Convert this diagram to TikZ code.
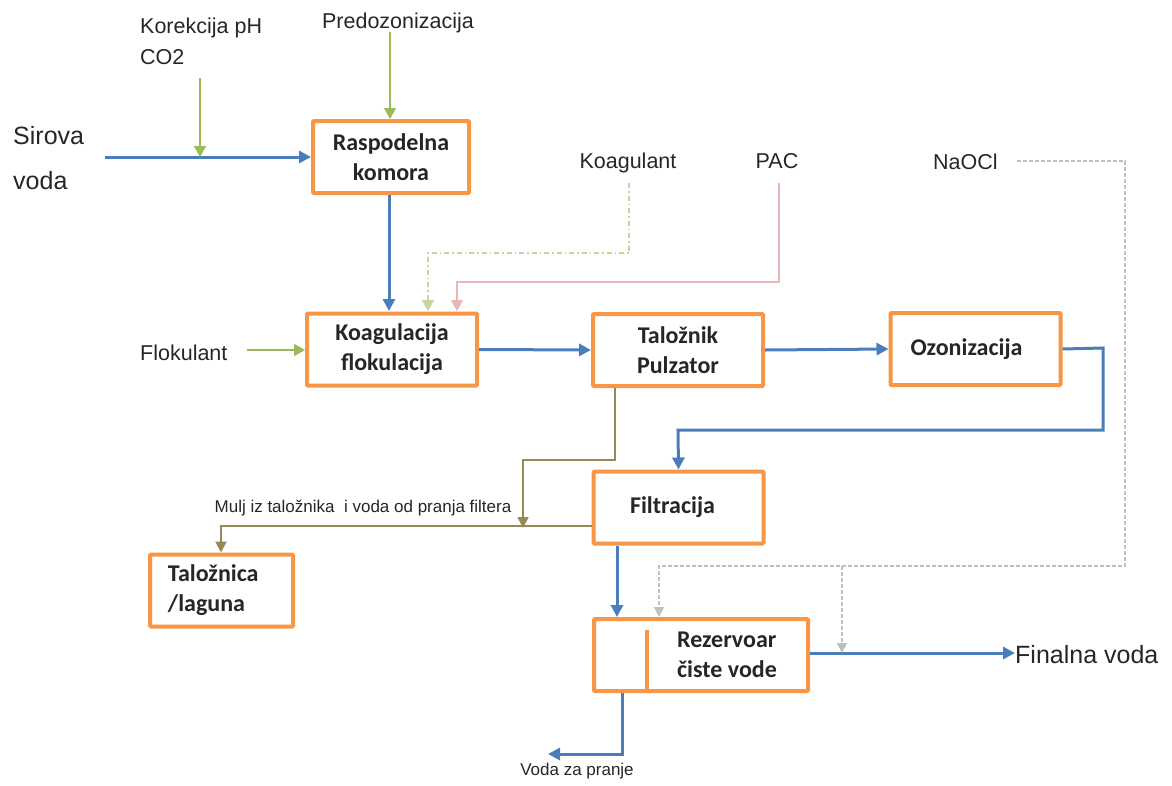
\documentclass[tikz,border=0pt]{standalone}
\usepackage{fontspec}
\usepackage{xcolor}
\usetikzlibrary{arrows.meta}
\setmainfont{Liberation Sans}
\newfontfamily\calib{Carlito}

\definecolor{flowblue}{RGB}{74,126,187}
\definecolor{dosegreen}{RGB}{155,187,89}
\definecolor{lightgreen}{RGB}{195,214,155}
\definecolor{boxorange}{RGB}{247,150,70}
\definecolor{pacpink}{RGB}{230,185,184}
\definecolor{sludge}{RGB}{148,138,84}
\definecolor{chlorgray}{RGB}{191,191,191}
\definecolor{ink}{RGB}{38,38,38}

\tikzset{
  unit/.style={draw=boxorange, line width=4pt, rounded corners=1pt, fill=white,
    minimum width=170pt, minimum height=72pt, inner sep=0pt,
    font=\calib\bfseries\fontsize{24}{30}\selectfont, text=ink, align=center},
  lbl/.style={inner sep=0pt, text=ink, font=\fontsize{21.5}{31}\selectfont},
  biglbl/.style={inner sep=0pt, text=ink, font=\fontsize{25}{45}\selectfont},
  smalllbl/.style={inner sep=0pt, text=ink, font=\fontsize{17}{20}\selectfont},
  water/.style={draw=flowblue, line width=3pt, -{Triangle[length=12pt,width=12pt]}},
  dose/.style={draw=dosegreen, line width=1.5pt, -{Triangle[length=11pt,width=12pt]}},
  sludgeline/.style={draw=sludge, line width=2pt, -{Triangle[length=11pt,width=11pt]}},
  chlor/.style={draw=chlorgray, line width=1.4pt, dash pattern=on 4pt off 2pt,
    -{Triangle[length=10pt,width=10pt]}},
}

\begin{document}
\begin{tikzpicture}[x=1pt, y=-1pt]
\useasboundingbox (0,0) rectangle (1172,785);

% process units
\node[unit, minimum width=156pt] (rasp) at (391,157) {Raspodelna\\komora};
\node[unit] (koag) at (392,349.5) {Koagulacija\\flokulacija};
\node[unit] (talo) at (678,350) {Taložnik\\Pulzator};
\node[unit] (ozon) at (975.5,349) {\hspace*{-18pt}Ozonizacija};
\node[unit] (filt) at (678.5,507.5) {\hspace*{-12pt}Filtracija};
\node[unit, minimum width=143pt, align=left] (lag) at (221.5,590.5) {Taložnica\\/laguna\hspace*{30pt}};
\node[unit, minimum width=214pt] (rez) at (701,655) {};
\node[inner sep=0pt, align=left, text=ink, font=\calib\bfseries\fontsize{24}{30}\selectfont] (rezt) at (727,655) {Rezervoar\\čiste vode};
\draw[draw=boxorange, line width=4pt] (647,630) -- (647,693);

% labels
\node[biglbl, anchor=west, align=left] (raw) at (13,158) {Sirova\\voda};
\node[lbl, anchor=west, align=left] (co2) at (140,41) {Korekcija pH\\CO2};
\node[lbl, anchor=base] (preoz) at (398,28) {Predozonizacija};
\node[lbl, anchor=base] (koagul) at (628,168) {Koagulant};
\node[lbl, anchor=base] (pac) at (777,168) {PAC};
\node[lbl, anchor=base west] (naocl) at (933,169) {NaOCl};
\node[lbl, anchor=base west] (flok) at (140,360) {Flokulant};
\node[smalllbl, anchor=base] (mulj) at (363,512) {Mulj iz taložnika\ \ i voda od pranja filtera};
\node[biglbl, anchor=base west] (final) at (1015,663) {Finalna voda};
\node[smalllbl, anchor=base] (wash) at (577,775) {Voda za pranje};

\coordinate (rawend) at (105,157);
\coordinate (co2top) at (200,78);
\coordinate (preoztop) at (390,32);
\coordinate (washend) at (548,754);
\coordinate (sludgedrop) at (523,528);

% water line
\draw[water] (rawend) -- (rawend -| rasp.west);
\draw[water] (389,195) -- (389,311);
\draw[water] (koag.east) -- (talo.west);
\draw[water] (talo.east) -- (ozon.west);
\draw[water] (ozon.east) -- (1103,348) -- (1103,430) -- (678,430) -- (filt.north);
\draw[water] (617,546) -- (617,617);
\draw[water] (rez.east |- 0,653) -- (final.west |- 0,653);
\draw[water] (622,693) -- (622,754) -- (washend);

% chemicals
\draw[dose] (co2top) -- (200,157);
\draw[dose] (preoztop) -- (preoztop |- rasp.north);
\draw[dose] (flok.east |- 0,350) ++(19,0) -- (koag.west |- 0,350);
\draw[dose, draw=lightgreen, dash pattern=on 5pt off 3pt on 1.5pt off 3pt] (629,183) -- (629,253) -- (428,253) -- (428,311);
\draw[dose, draw=pacpink] (779,183) -- (779,282) -- (457,282) -- (457,311);
\draw[chlor] (1017,161) -- (1125,161) -- (1125,566) -- (659,566) -- (659,617);
\draw[chlor] (842,566) -- (842,653);

% sludge
\draw[sludgeline, line width=1.5pt] (615,388) -- (615,460) -- (523,460) -- (sludgedrop);
\draw[sludgeline] (592,526) -- (221,526) -- (lag.north -| 221,0);
\end{tikzpicture}
\end{document}
